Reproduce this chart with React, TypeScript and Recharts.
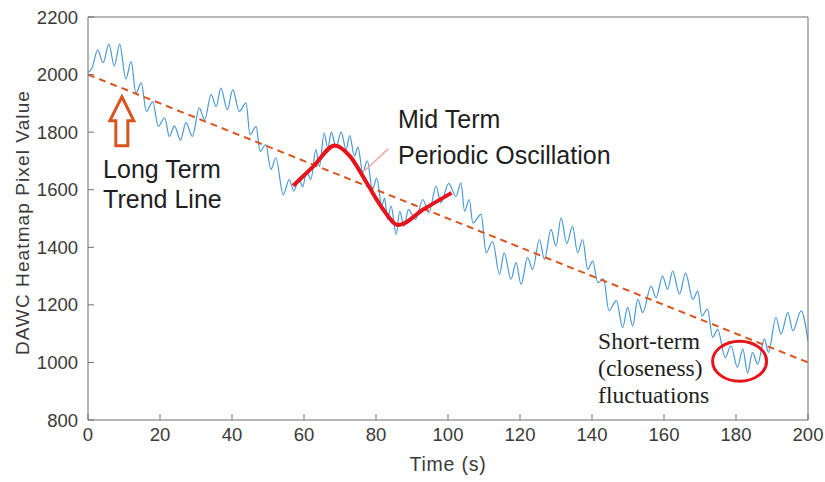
import React from 'react';
import { LineChart, Line, XAxis, YAxis, ReferenceDot, ReferenceLine } from 'recharts';

const timeTicks = [0, 20, 40, 60, 80, 100, 120, 140, 160, 180, 200];
const valueTicks = [800, 1000, 1200, 1400, 1600, 1800, 2000, 2200];

// blue signal at its peaks and troughs: [time (s), pixel value]
const signalPoints: [number, number][] = [
  [0, 2008], [1.1, 2022], [2.7, 2086], [4.2, 2041], [5.8, 2106], [7.3, 2030], [8.8, 2106],
  [10.5, 1985], [12.0, 2045], [13.3, 1936], [14.8, 1971], [16.2, 1872], [18.0, 1906],
  [19.5, 1820], [21.3, 1850], [22.6, 1785], [24.0, 1822], [25.7, 1772], [27.2, 1833],
  [29.0, 1785], [30.9, 1884], [32.4, 1843], [34.2, 1930], [35.6, 1889], [36.9, 1953],
  [38.7, 1878], [40.2, 1948], [42.0, 1872], [43.9, 1902], [45.0, 1791], [46.7, 1820],
  [47.8, 1733], [49.4, 1757], [50.8, 1670], [52.2, 1711], [54.2, 1583], [55.9, 1635],
  [57.2, 1595], [58.6, 1640], [59.6, 1610], [60.8, 1665], [61.9, 1635], [63.3, 1739],
  [64.3, 1681], [65.6, 1797], [66.6, 1745], [67.6, 1800], [68.9, 1746], [70.3, 1800],
  [71.7, 1739], [72.7, 1788], [74.0, 1716], [75.0, 1748], [76.3, 1660], [77.6, 1700],
  [79.0, 1600], [80.2, 1640], [81.6, 1545], [82.4, 1570], [83.2, 1497], [84.2, 1543],
  [85.6, 1445], [86.6, 1525], [87.8, 1473], [89.0, 1531], [91.0, 1497], [93.0, 1566],
  [94.7, 1520], [96.7, 1612], [98.0, 1555], [100.2, 1622], [102.2, 1577], [103.6, 1624],
  [104.6, 1525], [105.9, 1566], [106.9, 1485], [109.2, 1514], [110.6, 1381], [112.4, 1421],
  [114.3, 1306], [115.6, 1381], [117.5, 1289], [118.9, 1347], [120.3, 1271], [122.1, 1364],
  [123.5, 1323], [125.4, 1427], [126.8, 1358], [128.6, 1462], [130.0, 1404], [131.4, 1502],
  [133.0, 1413], [134.6, 1473], [136.0, 1381], [137.4, 1427], [138.8, 1323], [140.2, 1352],
  [141.6, 1277], [143.2, 1290], [144.7, 1180], [146.8, 1215], [148.5, 1121], [149.9, 1191],
  [151.3, 1127], [152.7, 1219], [154.1, 1173], [156.4, 1265], [157.8, 1225], [159.6, 1300],
  [161.0, 1254], [162.4, 1317], [164.3, 1237], [166.0, 1310], [168.0, 1219], [169.4, 1248],
  [170.5, 1162], [172.1, 1185], [173.5, 1087], [174.9, 1115], [177.0, 1017], [178.6, 1058],
  [180.4, 983], [181.9, 1046], [183.2, 963], [184.6, 1035], [186.0, 994], [187.9, 1081],
  [189.0, 1035], [191.1, 1156], [192.5, 1098], [194.4, 1173], [195.8, 1110], [198.1, 1179],
  [200, 1075],
];

// long term trend (dashed)
const trendPoints: [number, number][] = [[0, 2000], [200, 1000]];

// mid term periodic oscillation (red)
const oscillationPoints: [number, number][] = [
  [57, 1614], [62.6, 1681], [68.6, 1754], [72.8, 1716], [77.4, 1624],
  [82, 1531], [86.2, 1477], [93.1, 1531], [101, 1589],
];

const toRows = (pts: [number, number][]) => pts.map(([t, v]) => ({ t, v }));
const signalData = toRows(signalPoints);
const trendData = toRows(trendPoints);
const oscillationData = toRows(oscillationPoints);

const SANS = '"Liberation Sans", Arial, sans-serif';
const SERIF = '"Liberation Serif", "Times New Roman", serif';
const AXIS = '#6e6e6e';
const ORANGE = '#d9541e';
const RED = '#e8141c';

const tickStyle = { fontFamily: SANS, fontSize: 18.5, fill: '#3a3a3a' };

const yTitle = ({ viewBox }: any) => {
  const cx = viewBox.x + 22;
  const cy = viewBox.y + viewBox.height / 2 + 4;
  return (
    <text x={cx} y={cy} transform={`rotate(-90 ${cx} ${cy})`} textAnchor="middle" dominantBaseline="central"
      style={{ fontFamily: SANS, fontSize: 19, fill: '#3a3a3a', letterSpacing: 1.1 }}>
      DAWC Heatmap Pixel Value
    </text>
  );
};

const xTitle = ({ viewBox }: any) => (
  <text x={viewBox.x + viewBox.width / 2} y={viewBox.y + 51} textAnchor="middle"
    style={{ fontFamily: SANS, fontSize: 19.5, fill: '#3a3a3a', letterSpacing: 0.8 }}>
    Time (s)
  </text>
);

const upArrow = ({ cx, cy }: any) => (
  <polygon
    points={`${cx},${cy} ${cx + 12},${cy + 24} ${cx + 6},${cy + 24} ${cx + 6},${cy + 49} ${cx - 6},${cy + 49} ${cx - 6},${cy + 24} ${cx - 12},${cy + 24}`}
    fill="#fff" stroke={ORANGE} strokeWidth={3} strokeLinejoin="miter" />
);

const circleMark = ({ cx, cy }: any) => (
  <ellipse cx={cx} cy={cy} rx={27} ry={20} fill="none" stroke={RED} strokeWidth={3} />
);

const twoLines = (a: string, b: string, size: number, gap: number, family: string) => ({ cx, cy }: any) => (
  <text x={cx} y={cy} style={{ fontFamily: family, fontSize: size, fill: '#1e1e1e' }}>
    <tspan x={cx} y={cy}>{a}</tspan>
    <tspan x={cx} y={cy + gap}>{b}</tspan>
  </text>
);

const shortTermNote = ({ cx, cy }: any) => (
  <text x={cx} y={cy} style={{ fontFamily: SERIF, fontSize: 23.5, fill: '#1e1e1e' }}>
    <tspan x={cx} y={cy}>Short-term</tspan>
    <tspan x={cx} y={cy + 27}>(closeness)</tspan>
    <tspan x={cx} y={cy + 54}>fluctuations</tspan>
  </text>
);

export default function App() {
  return (
    <div style={{ position: 'absolute', left: 0, top: 0, background: '#fff' }}>
      <LineChart width={825} height={482} margin={{ top: 16, right: 16, bottom: 0, left: 0 }}>
        <XAxis xAxisId={0} dataKey="t" type="number" domain={[0, 200]} ticks={timeTicks} allowDataOverflow
          height={62} stroke={AXIS} tickSize={-6} tickMargin={14} tick={tickStyle}
          label={{ content: xTitle }} />
        <XAxis xAxisId="top" orientation="top" dataKey="t" type="number" domain={[0, 200]} ticks={timeTicks}
          height={1} stroke={AXIS} tickSize={-6} tick={false} />
        <YAxis yAxisId={0} type="number" domain={[800, 2200]} ticks={valueTicks} allowDataOverflow
          width={88} stroke={AXIS} tickSize={-6} tickMargin={16} tick={tickStyle}
          label={{ content: yTitle }} />
        <YAxis yAxisId="right" orientation="right" type="number" domain={[800, 2200]} ticks={valueTicks}
          width={1} stroke={AXIS} tickSize={-6} tick={false} />

        <Line data={signalData} dataKey="v" type="monotone" stroke="#4a98d8" strokeWidth={1.2}
          dot={false} isAnimationActive={false} />
        <Line data={trendData} dataKey="v" type="linear" stroke={ORANGE} strokeWidth={2}
          strokeDasharray="7 5" dot={false} isAnimationActive={false} />
        <Line data={oscillationData} dataKey="v" type="monotone" stroke={RED} strokeWidth={4}
          dot={false} isAnimationActive={false} />

        <ReferenceLine segment={[{ x: 76.9, y: 1667 }, { x: 83.4, y: 1742 }]} stroke="#f4a6a6" strokeWidth={1.5} />
        <ReferenceDot x={9.4} y={1923} r={1} shape={upArrow} />
        <ReferenceDot x={181} y={1004} r={1} shape={circleMark} />
        <ReferenceDot x={4.2} y={1639} r={1} shape={twoLines('Long Term', 'Trend Line', 25, 30, SANS)} />
        <ReferenceDot x={86.1} y={1815} r={1} shape={twoLines('Mid Term', 'Periodic Oscillation', 25, 36, SANS)} />
        <ReferenceDot x={141.7} y={1046} r={1} shape={shortTermNote} />
      </LineChart>
    </div>
  );
}
